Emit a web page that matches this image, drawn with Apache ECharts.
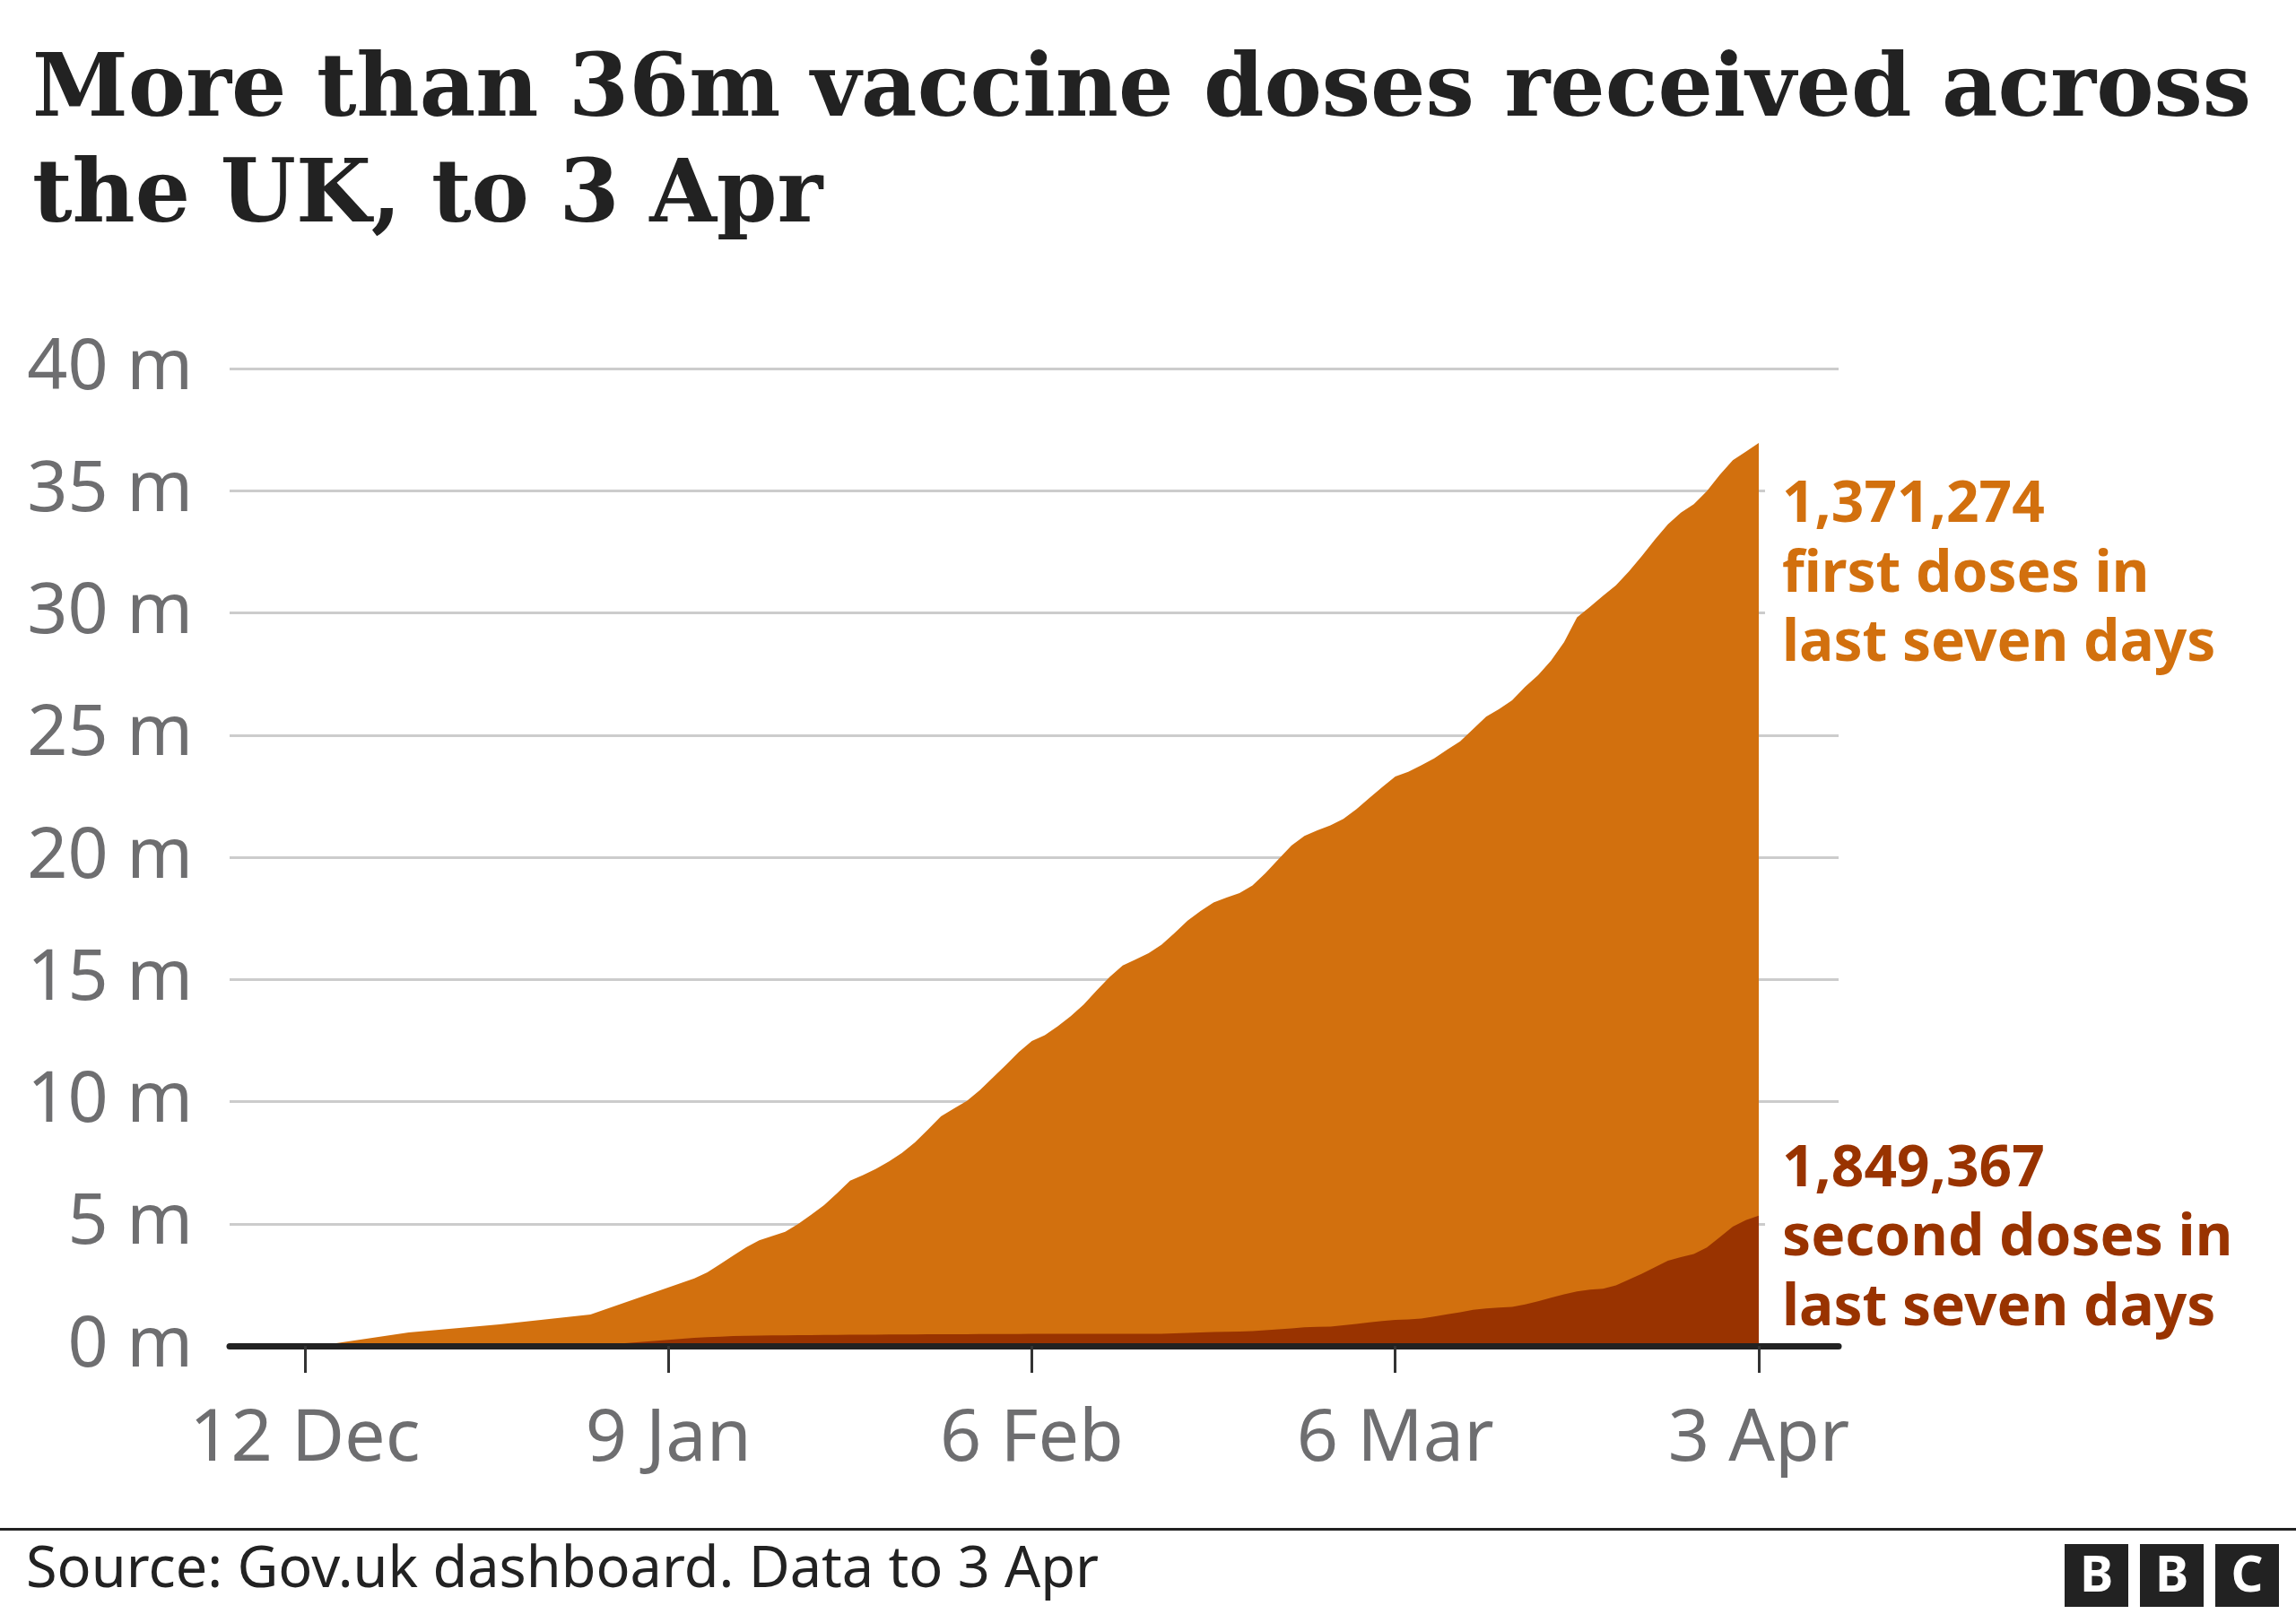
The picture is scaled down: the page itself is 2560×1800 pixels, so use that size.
<!DOCTYPE html>
<html>
<head>
<meta charset="utf-8">
<script src="https://cdn.jsdelivr.net/npm/echarts@6/dist/echarts.min.js"></script>
<style>
html, body { margin: 0; padding: 0; background: #fff; }
#main { width: 2560px; height: 1800px; }
</style>
</head>
<body>
<div id="main"></div>
<script>
// weekly totals published before daily reporting started (millions)
const weeklyDates = ['2020-12-13', '2020-12-20', '2020-12-27', '2021-01-03'];
const weeklyFirst = [0, 0.55, 0.88, 1.28];
const weeklySecond = [0, 0, 0, 0];

// daily cumulative figures from 11 Jan to 3 Apr (millions)
const dailyStart = '2021-01-11';
const dailyFirst = [
    2.43, 2.65, 2.97, 3.30, 3.63, 3.90, 4.07, 4.24, 4.55, 4.93,
    5.31, 5.80, 6.30, 6.53, 6.79, 7.08, 7.43, 7.86, 8.37, 8.91,
    9.24, 9.55, 9.98, 10.49, 11.01, 11.54, 11.98, 12.22, 12.58, 13.00,
    13.47, 14.05, 14.60, 15.07, 15.32, 15.57, 15.92, 16.39, 16.87, 17.25,
    17.58, 17.77, 17.94, 18.23, 18.71, 19.24, 19.76, 20.11, 20.32, 20.51,
    20.73, 21.06, 21.46, 21.85, 22.24, 22.42, 22.64, 22.85, 23.11, 23.36,
    23.77, 24.22, 24.49, 24.82, 25.27, 25.62, 26.08, 26.69, 27.59, 27.95,
    28.36, 28.65, 28.98, 29.38, 29.78, 30.13, 30.47, 30.69, 30.95, 31.20,
    31.37, 31.45, 31.62
];
const dailySecond = [
    0.33, 0.36, 0.38, 0.40, 0.41, 0.42, 0.43, 0.43, 0.44, 0.44,
    0.45, 0.45, 0.46, 0.46, 0.46, 0.47, 0.47, 0.47, 0.48, 0.48,
    0.48, 0.48, 0.49, 0.49, 0.49, 0.49, 0.50, 0.50, 0.50, 0.50,
    0.50, 0.50, 0.50, 0.50, 0.50, 0.50, 0.50, 0.51, 0.53, 0.55,
    0.57, 0.58, 0.59, 0.61, 0.64, 0.68, 0.72, 0.76, 0.78, 0.79,
    0.84, 0.90, 0.96, 1.02, 1.06, 1.08, 1.12, 1.20, 1.29, 1.38,
    1.48, 1.53, 1.57, 1.60, 1.70, 1.83, 1.97, 2.11, 2.23, 2.30,
    2.34, 2.48, 2.72, 2.95, 3.22, 3.49, 3.63, 3.76, 4.03, 4.45,
    4.88, 5.15, 5.33
];

const tickDates = ['2020-12-12', '2021-01-09', '2021-02-06', '2021-03-06', '2021-04-03'];
const tickLabels = ['12 Dec', '9 Jan', '6 Feb', '6 Mar', '3 Apr'];

const DAY = 86400000;
const origin = Date.UTC(2020, 11, 12);
function dayOf(s) {
    const p = s.split('-').map(Number);
    return (Date.UTC(p[0], p[1] - 1, p[2]) - origin) / DAY;
}

const xDays = weeklyDates.map(dayOf);
const startDay = dayOf(dailyStart);
dailyFirst.forEach((v, i) => xDays.push(startDay + i));
const firstVals = weeklyFirst.concat(dailyFirst);
const secondVals = weeklySecond.concat(dailySecond);
const tickDays = tickDates.map(dayOf);

// stacked by hand: orange area = first + second, brown drawn over it
const totalData = xDays.map((d, i) => [d, +(firstVals[i] + secondVals[i]).toFixed(2)]);
const secondData = xDays.map((d, i) => [d, secondVals[i]]);

const orange = '#d2700e';
const brown = '#993300';
const sans = '"Noto Sans", sans-serif';
const serif = '"DejaVu Serif", serif';

// fit the headline to the width it has in the original
function fitSize(text, family, width) {
    const ctx = document.createElement('canvas').getContext('2d');
    ctx.font = 'bold 100px ' + family;
    return Math.round(100 * width / ctx.measureText(text).width * 10) / 10;
}
const title1 = 'More than 36m vaccine doses received across';
const title2 = 'the UK, to 3 Apr';
const titleSize = fitSize(title1, serif, 2475);
const titleFont = 'bold ' + titleSize + 'px ' + serif;

var myChart = echarts.init(document.getElementById('main'));

function txt(x, y, text, font, fill, align) {
    return {
        type: 'text', x: x, y: y, z: 100,
        style: {
            text: text, font: font, fill: fill,
            textAlign: align || 'left', align: align || 'left',
            textVerticalAlign: 'middle', verticalAlign: 'middle'
        }
    };
}

var option = {
    backgroundColor: '#fff',
    animation: false,
    grid: { left: 256, right: 510, top: 411, bottom: 299 },
    xAxis: {
        type: 'value',
        min: -5.8,
        max: 118.15,
        z: 10,
        splitLine: { show: false },
        axisLine: { show: true, onZero: true, lineStyle: { color: '#222', width: 7 } },
        axisTick: { show: true, customValues: tickDays, length: 30, lineStyle: { color: '#333', width: 3 } },
        axisLabel: {
            customValues: tickDays,
            margin: 64,
            color: '#6e6e70',
            fontFamily: sans,
            fontSize: 81,
            formatter: function (v) { return tickLabels[tickDays.indexOf(v)]; }
        }
    },
    yAxis: {
        type: 'value',
        min: 0,
        max: 40,
        interval: 5,
        axisLine: { show: false },
        axisTick: { show: false },
        splitLine: { lineStyle: { color: '#cccccc', width: 3 } },
        axisLabel: {
            margin: 41,
            color: '#6e6e70',
            fontFamily: sans,
            fontSize: 79,
            formatter: '{value} m'
        }
    },
    series: [
        {
            name: 'All doses',
            type: 'line',
            showSymbol: false,
            lineStyle: { width: 0 },
            areaStyle: { color: orange, opacity: 1 },
            data: totalData
        },
        {
            name: 'Second doses',
            type: 'line',
            showSymbol: false,
            lineStyle: { width: 0 },
            areaStyle: { color: brown, opacity: 1 },
            data: secondData
        }
    ],
    graphic: [
        // title
        txt(36, 104, title1, titleFont, '#222'),
        txt(36, 222, title2, titleFont, '#222'),
        // white boxes behind the annotations hide the gridlines
        { type: 'rect', z: 90, shape: { x: 1968, y: 515, width: 100, height: 250 }, style: { fill: '#fff' } },
        { type: 'rect', z: 90, shape: { x: 1968, y: 1285, width: 100, height: 200 }, style: { fill: '#fff' } },
        txt(1987, 564, '1,371,274', 'bold 64px ' + sans, orange),
        txt(1987, 642, 'first doses in', 'bold 64px ' + sans, orange),
        txt(1987, 719, 'last seven days', 'bold 64px ' + sans, orange),
        txt(1987, 1305, '1,849,367', 'bold 64px ' + sans, brown),
        txt(1987, 1382, 'second doses in', 'bold 64px ' + sans, brown),
        txt(1987, 1460, 'last seven days', 'bold 64px ' + sans, brown),
        // footer
        { type: 'rect', z: 100, shape: { x: 0, y: 1704, width: 2560, height: 3 }, style: { fill: '#222' } },
        txt(29, 1752, 'Source: Gov.uk dashboard. Data to 3 Apr', '63px ' + sans, '#222'),
        { type: 'rect', z: 100, shape: { x: 2302, y: 1722, width: 71, height: 70 }, style: { fill: '#222' } },
        { type: 'rect', z: 100, shape: { x: 2386, y: 1722, width: 71, height: 70 }, style: { fill: '#222' } },
        { type: 'rect', z: 100, shape: { x: 2470, y: 1722, width: 71, height: 70 }, style: { fill: '#222' } },
        txt(2337.5, 1759, 'B', 'bold 56px ' + sans, '#fff', 'center'),
        txt(2421.5, 1759, 'B', 'bold 56px ' + sans, '#fff', 'center'),
        txt(2505.5, 1759, 'C', 'bold 56px ' + sans, '#fff', 'center')
    ]
};

myChart.setOption(option);
window.addEventListener('resize', function () { myChart.resize(); });
</script>
</body>
</html>
